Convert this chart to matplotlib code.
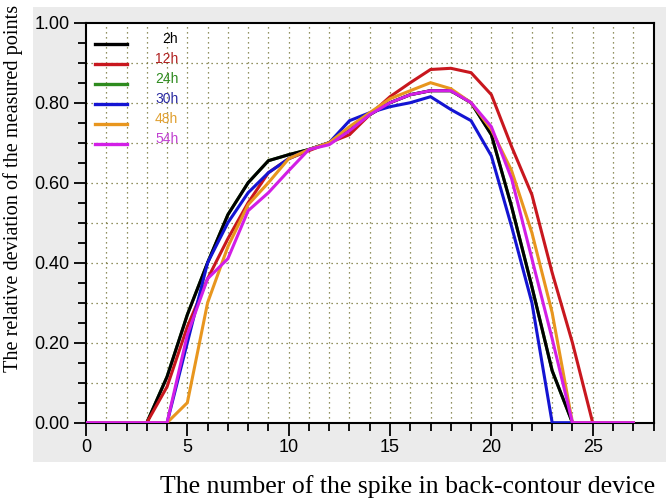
import matplotlib.pyplot as plt
import numpy as np
from matplotlib.patches import Rectangle
from matplotlib.ticker import MultipleLocator, FormatStrFormatter

# spike number
x = np.arange(0, 28)

y_2h = [0, 0, 0, 0, 0.115, 0.27, 0.40, 0.52, 0.60, 0.655, 0.67, 0.683, 0.70, 0.73,
        0.77, 0.80, 0.82, 0.83, 0.83, 0.80, 0.72, 0.54, 0.34, 0.13, 0, 0, 0, 0]
y_12h = [0, 0, 0, 0, 0.09, 0.24, 0.36, 0.46, 0.55, 0.625, 0.66, 0.68, 0.70, 0.72,
         0.77, 0.815, 0.85, 0.883, 0.886, 0.875, 0.82, 0.69, 0.57, 0.375, 0.20, 0, 0, 0]
y_24h = [0, 0, 0, 0, 0.115, 0.27, 0.40, 0.52, 0.60, 0.655, 0.67, 0.683, 0.70, 0.73,
         0.77, 0.80, 0.82, 0.83, 0.83, 0.80, 0.72, 0.54, 0.34, 0.13, 0, 0, 0, 0]
y_30h = [0, 0, 0, 0, 0, 0.20, 0.40, 0.50, 0.575, 0.625, 0.66, 0.683, 0.70, 0.755,
         0.775, 0.79, 0.80, 0.815, 0.783, 0.755, 0.667, 0.49, 0.30, 0, 0, 0, 0, 0]
y_48h = [0, 0, 0, 0, 0, 0.05, 0.30, 0.44, 0.545, 0.60, 0.66, 0.683, 0.70, 0.74,
         0.775, 0.81, 0.83, 0.85, 0.835, 0.80, 0.733, 0.63, 0.475, 0.275, 0, 0, 0, 0]
y_54h = [0, 0, 0, 0, 0, 0.22, 0.36, 0.41, 0.53, 0.575, 0.63, 0.683, 0.695, 0.73,
         0.77, 0.80, 0.82, 0.83, 0.83, 0.80, 0.74, 0.61, 0.41, 0.21, 0, 0, 0, 0]

labels = ["2h", "12h", "24h", "30h", "48h", "54h"]
series = [y_2h, y_12h, y_24h, y_30h, y_48h, y_54h]
colors = ["#000000", "#c8171e", "#2e8b1e", "#1414d2", "#e8961e", "#d21ee6"]
text_colors = ["#000000", "#b02020", "#2e8b1e", "#2a2aa0", "#e0a030", "#c040d0"]

fig = plt.figure(figsize=(6.69, 5.01), dpi=100)
fig.patches.append(Rectangle((33 / 669, 1 - 462 / 501), (666 - 33) / 669, (462 - 7) / 501,
                             transform=fig.transFigure, facecolor="#ebebeb",
                             edgecolor="none", zorder=-10))
ax = fig.add_axes([86 / 669, 1 - 422.7 / 501, (653.5 - 86) / 669, 400 / 501])
ax.set_facecolor("white")

# green (24h) sits underneath the others
draw_order = [2, 0, 1, 3, 4, 5]
for z, i in enumerate(draw_order):
    ax.plot(x, series[i], color=colors[i], lw=2.2, solid_joinstyle="miter", zorder=3 + z)

# legend drawn inside the plot
for i, lab in enumerate(labels):
    yy = 0.947 - 0.05 * i
    ax.plot([0.45, 2.0], [yy, yy], color=colors[i], lw=2.4, zorder=10)
    ax.text(4.55, yy + 0.012, lab, color=text_colors[i], fontsize=10,
            ha="right", va="center", family="Liberation Sans", zorder=10)

ax.set_xlim(0, 28)
ax.set_ylim(0, 1.0)
ax.xaxis.set_major_locator(MultipleLocator(5))
ax.xaxis.set_minor_locator(MultipleLocator(1))
ax.yaxis.set_major_locator(MultipleLocator(0.2))
ax.yaxis.set_minor_locator(MultipleLocator(0.05))
ax.yaxis.set_major_formatter(FormatStrFormatter("%.2f"))

for v in range(1, 28):
    ax.axvline(v, color="#6e6e2e", lw=0.9, ls=(0, (1, 3)), zorder=1)
for v in np.arange(0.1, 1.0, 0.1):
    ax.axhline(v, color="#6e6e2e", lw=0.9, ls=(0, (1, 3)), zorder=1)

ax.tick_params(axis="both", which="major", direction="out", length=9, width=1.3,
               labelsize=13, pad=3)
ax.tick_params(axis="both", which="minor", direction="out", length=6, width=1.3)
for lab in ax.get_xticklabels() + ax.get_yticklabels():
    lab.set_family("Liberation Sans")
for s in ax.spines.values():
    s.set_linewidth(1.5)

fig.text(655 / 669, 1 - 487 / 501, "The number of the spike in back-contour device",
         ha="right", va="center", fontsize=18.5, family="Liberation Serif")
fig.text(13 / 669, 1 - 188 / 501, "The relative deviation of the measured points",
         ha="center", va="center", rotation=90, fontsize=14.6, family="Liberation Serif")

fig.savefig("out.png", dpi=100)
